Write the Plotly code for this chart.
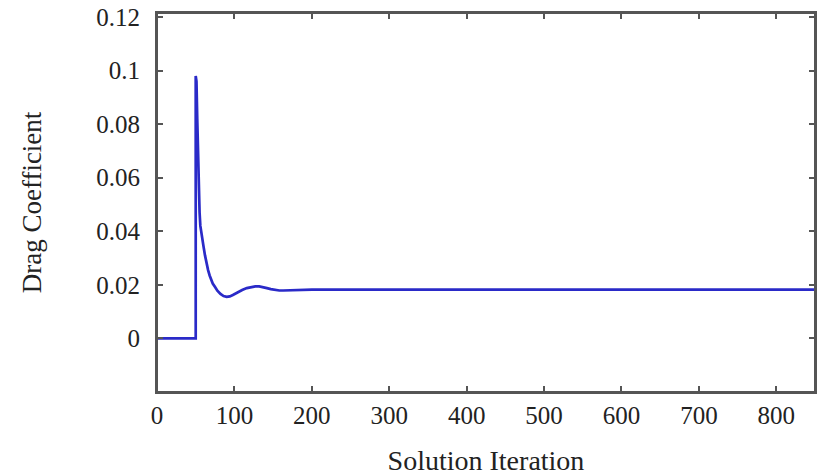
import plotly.graph_objects as go

iterations = [0, 50, 50, 51, 52, 53, 54, 55, 56, 58, 60, 62, 64, 66, 68, 70, 72, 75, 78, 82, 86, 90, 94, 98, 104, 110, 116, 122, 127, 132, 137, 142, 147, 152, 158, 163, 170, 180, 200, 236, 300, 400, 500, 600, 700, 800, 850]
drag_coeff = [0.0, 0.0, 0.098, 0.096, 0.082, 0.068, 0.056, 0.047, 0.042, 0.0375, 0.0345, 0.031, 0.028, 0.0255, 0.0235, 0.0218, 0.0205, 0.0192, 0.0178, 0.0166, 0.0158, 0.0155, 0.0157, 0.0162, 0.0172, 0.0181, 0.0188, 0.0192, 0.0194, 0.0194, 0.0192, 0.0188, 0.0184, 0.0181, 0.0179, 0.0179, 0.0180, 0.0181, 0.0182, 0.0182, 0.0182, 0.0182, 0.0182, 0.0182, 0.0182, 0.0182, 0.0182]

x_ticks = [0, 100, 200, 300, 400, 500, 600, 700, 800]
y_ticks = [0, 0.02, 0.04, 0.06, 0.08, 0.1, 0.12]
y_tick_text = ["0", "0.02", "0.04", "0.06", "0.08", "0.1", "0.12"]

fig = go.Figure()
fig.add_trace(go.Scatter(x=iterations, y=drag_coeff, mode="lines",
                         line=dict(color="#2a2ac8", width=2.7, shape="linear"),
                         showlegend=False))

tick_font = dict(family="Liberation Serif, Times New Roman, serif", size=25, color="#222222")
title_font = dict(family="Liberation Serif, Times New Roman, serif", size=27, color="#222222")
axis_common = dict(showgrid=False, zeroline=False, showline=True, linecolor="#555555", linewidth=2,
                   mirror="ticks", ticks="inside", ticklen=6, tickwidth=1.5, tickcolor="#555555",
                   tickfont=tick_font, automargin=False, ticklabeloverflow="allow")

fig.update_xaxes(range=[0, 850], tickvals=x_ticks,
                 title=dict(text="Solution Iteration", font=dict(title_font, size=28), standoff=32),
                 **axis_common)
fig.update_yaxes(range=[-0.02, 0.1215], tickvals=y_ticks, ticktext=y_tick_text,
                 title=dict(text="Drag Coefficient", font=title_font, standoff=47), ticklabelstandoff=10,
                 **axis_common)

# frame around the plotting area
fig.add_shape(type="rect", xref="paper", yref="paper", x0=0, y0=0, x1=1, y1=1,
              line=dict(color="#555555", width=2), layer="above")

fig.update_layout(width=822, height=476, margin=dict(l=157, r=7, t=13, b=84),
                  plot_bgcolor="white", paper_bgcolor="white", font=tick_font)

fig.write_html("out.html",
               post_script=("document.body.style.margin='0';"
                            "document.body.style.overflow='hidden';"
                            "document.documentElement.style.overflow='hidden';"),
               config={"displayModeBar": False})
